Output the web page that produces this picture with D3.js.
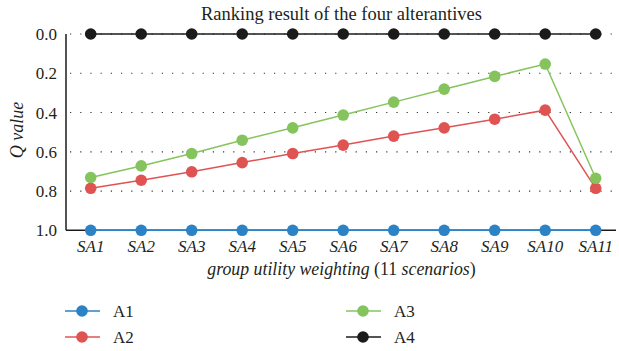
<!DOCTYPE html>
<html><head><meta charset="utf-8">
<script src="https://cdn.jsdelivr.net/npm/d3@7"></script>
<style>body{margin:0;background:#fff}</style>
</head><body>
<svg id="c" width="619" height="351"></svg>
<script>
const categories = ["SA1","SA2","SA3","SA4","SA5","SA6","SA7","SA8","SA9","SA10","SA11"];
const A1 = [1,1,1,1,1,1,1,1,1,1,1];
const A2 = [0.786,0.745,0.702,0.655,0.609,0.566,0.520,0.478,0.434,0.388,0.786];
const A3 = [0.731,0.672,0.609,0.541,0.478,0.413,0.347,0.281,0.216,0.153,0.735];
const A4 = [0,0,0,0,0,0,0,0,0,0,0];
const yTicks = [0,0.2,0.4,0.6,0.8,1.0];
const seriesNames = ["A1","A2","A3","A4"];
const colors = {A1:"#2b82c4",A2:"#e05353",A3:"#85c45c",A4:"#1c1a1b"};
const seriesData = {A1,A2,A3,A4};

const svg = d3.select("#c");
const FONT = "'Liberation Serif'";
const fs = 17;
const x = d3.scalePoint().domain(categories).range([90.7,595.7]);
const y = d3.scaleLinear().domain([0,1]).range([34,230.3]);

svg.append("g").selectAll("line").data(yTicks.slice(0,5)).join("line")
  .attr("x1",70).attr("x2",616).attr("y1",d=>y(d)).attr("y2",d=>y(d))
  .attr("stroke","#333").attr("stroke-width",1.2).attr("stroke-dasharray","1.2,9");

svg.append("line").attr("x1",66).attr("x2",66).attr("y1",y(0)).attr("y2",y(1)).attr("stroke","#1c1a1b").attr("stroke-width",1.5);
svg.append("line").attr("x1",66).attr("x2",616).attr("y1",y(1)).attr("y2",y(1)).attr("stroke","#1c1a1b").attr("stroke-width",1.5);

svg.append("g").selectAll("text").data(yTicks).join("text")
  .attr("x",57).attr("y",d=>y(d)+6).attr("text-anchor","end")
  .attr("font-size",fs).style("font-family",FONT).attr("fill","#231f20")
  .text(d=>d3.format(".1f")(d));

svg.append("g").selectAll("text").data(categories).join("text")
  .attr("x",d=>x(d)).attr("y",251.5).attr("text-anchor","middle")
  .attr("font-size",fs).attr("font-style","italic").style("font-family",FONT).attr("fill","#231f20")
  .text(d=>d);

const line = d3.line().x((d,i)=>x(categories[i])).y(d=>y(d));
seriesNames.forEach(name=>{
  const g = svg.append("g");
  g.append("path").datum(seriesData[name]).attr("d",line).attr("fill","none")
    .attr("stroke",colors[name]).attr("stroke-width",1.5);
  g.selectAll("circle").data(seriesData[name]).join("circle")
    .attr("cx",(d,i)=>x(categories[i])).attr("cy",d=>y(d)).attr("r",5.8).attr("fill",colors[name]);
});

svg.append("text").attr("x",341.5).attr("y",20).attr("text-anchor","middle")
  .attr("font-size",18.5).style("font-family",FONT).attr("fill","#231f20")
  .text("Ranking result of the four alterantives");

svg.append("text").attr("transform","translate(23,130) rotate(-90)").attr("text-anchor","middle")
  .attr("font-size",18).attr("font-style","italic").style("font-family",FONT).attr("fill","#231f20")
  .text("Q value");

const xt = svg.append("text").attr("x",341.5).attr("y",275).attr("text-anchor","middle")
  .attr("font-size",17.8).style("font-family",FONT).attr("fill","#231f20");
xt.append("tspan").attr("font-style","italic").text("group utility weighting");
xt.append("tspan").text(" (11 ");
xt.append("tspan").attr("font-style","italic").text("scenarios");
xt.append("tspan").text(")");

const legendPos = [
  {name:"A1",lx:65,ly:311},{name:"A2",lx:65,ly:337},
  {name:"A3",lx:346,ly:311},{name:"A4",lx:346,ly:337}];
const lg = svg.append("g").selectAll("g").data(legendPos).join("g");
lg.append("line").attr("x1",d=>d.lx).attr("x2",d=>d.lx+35).attr("y1",d=>d.ly).attr("y2",d=>d.ly)
  .attr("stroke",d=>colors[d.name]).attr("stroke-width",1.5);
lg.append("circle").attr("cx",d=>d.lx+17).attr("cy",d=>d.ly).attr("r",5.8).attr("fill",d=>colors[d.name]);
lg.append("text").attr("x",d=>d.lx+48).attr("y",d=>d.ly+6)
  .attr("font-size",fs).style("font-family",FONT).attr("fill","#231f20").text(d=>d.name);
</script>
</body></html>
